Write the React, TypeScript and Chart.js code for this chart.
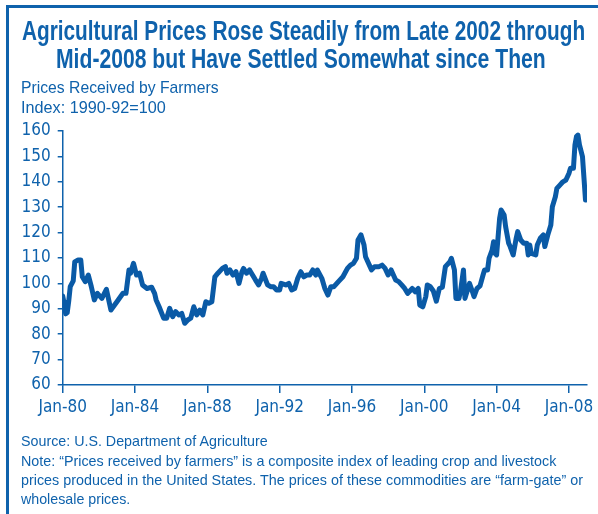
import React, { useEffect, useLayoutEffect, useRef, useState } from "react";
import { Chart, registerables } from "chart.js";

Chart.register(...registerables);

// Month index counted from Jan 1980 (0 = Jan-80)
const months = [
  0, 1, 2, 3, 4, 5, 7, 8, 10, 12, 13, 15, 17, 19, 21, 23, 26, 29, 32, 36,
  40, 42, 44, 45, 47, 49, 51, 53, 56, 59, 61, 62, 64, 67, 69, 71, 73, 75, 77, 79,
  81, 83, 85, 87, 89, 91, 93, 95, 97, 99, 101, 103, 106, 108, 109, 111, 113, 115, 117, 119,
  120, 122, 124, 126, 128, 130, 132, 133, 136, 138, 140, 142, 144, 145, 148, 150, 152, 154, 156, 158,
  160, 162, 164, 166, 168, 169, 172, 174, 176, 178, 180, 183, 186, 189, 191, 193, 195, 196, 198, 200,
  201, 204, 205, 207, 210, 212, 214, 216, 218, 221, 223, 225, 227, 229, 232, 234, 236, 237, 239, 241,
  242, 244, 246, 248, 250, 252, 254, 257, 258, 260, 261, 263, 264, 266, 267, 268, 270, 272, 273, 275,
  277, 279, 280, 282, 283, 285, 286, 287, 288, 289, 290, 291, 293, 294, 296, 297, 299, 301, 302, 304,
  306, 308, 309, 310, 311, 314, 315, 317, 319, 320, 322, 324, 325, 327, 328, 330, 332, 334, 336, 337,
  339, 340, 341, 342, 343, 345, 346, 347,
];

const values = [
  95, 92, 88, 88.5, 93, 98.7, 101, 108.5, 109.2, 109.2, 102.6, 100.7, 103.3, 98.7, 93.5, 96.1, 94.1, 97.7, 89.5, 92.8,
  96.1, 96.1, 105.3, 104, 107.9, 103.3, 104, 99.4, 98, 98.5, 96.1, 93.5, 90.8, 86.3, 86.3, 90.2, 86.9, 88.9, 87.6, 88.2,
  84.3, 85.6, 86.3, 90.8, 87.6, 89.5, 87.6, 92.8, 92.2, 92.8, 102.6, 104, 105.9, 106.6, 104, 105.3, 103.3, 104.6, 100, 104.6,
  105.9, 104, 105.3, 103.3, 101.3, 99.4, 102, 104, 99.4, 98.7, 98.7, 97.4, 97.4, 100, 99.4, 100, 97.4, 98, 102, 104.6,
  102.6, 103.3, 103.3, 105.3, 103.3, 105.3, 102, 98, 95.4, 98.7, 98.7, 100.7, 102.6, 105.9, 107.2, 107.9, 109.9, 117.1, 119.1, 115.1,
  110.5, 106.6, 105.3, 106.6, 106.6, 107.2, 105.9, 103.3, 105.3, 101.3, 100.7, 99.4, 98, 96.1, 98, 96.7, 98, 91.5, 90.8, 94.8,
  99.4, 98.7, 97, 93, 98, 98.5, 106.6, 108.5, 109.9, 105.3, 94.1, 94.1, 96.7, 105.3, 94.1, 96.1, 100, 96.7, 94.8, 98,
  99, 103.3, 105.3, 105.3, 109.9, 113.1, 116.4, 111.8, 111.2, 118.4, 125.6, 128.9, 126.9, 122.3, 115.8, 114.5, 111.2, 117.8, 120.4, 117.1,
  115.8, 115.8, 111.2, 115.1, 111.8, 111.2, 115.1, 117.8, 119.1, 114.5, 119.1, 123, 130.2, 134.1, 137.4, 138.7, 140, 140.7, 143.3, 145.3,
  145.3, 154.5, 157.8, 158.4, 154.5, 149.9, 141.4, 132.8,
];

const xTickYears = ["80", "84", "88", "92", "96", "00", "04", "08"];
const yTicks = [60, 70, 80, 90, 100, 110, 120, 130, 140, 150, 160];

const titleLines = [
  "Agricultural Prices Rose Steadily from Late 2002 through",
  "Mid-2008 but Have Settled Somewhat since Then",
];
const subtitleLines = ["Prices Received by Farmers", "Index: 1990-92=100"];
const footerLines = [
  "Source: U.S. Department of Agriculture",
  "Note: \u201cPrices received by farmers\u201d is a composite index of leading crop and livestock",
  "prices produced in the United States. The prices of these commodities are \u201cfarm-gate\u201d or",
  "wholesale prices.",
];

const BLUE = "#0f62ac";
const LINE = "#0a5aa6";
const TICK_FONT = "'DejaVu Sans Condensed', 'Liberation Sans', sans-serif";
const TEXT_FONT = "'Liberation Sans', Arial, sans-serif";

type FitProps = { text: string; left: number; top: number; width: number; size: number; bold?: boolean };

function FitLine({ text, left, top, width, size, bold }: FitProps) {
  const r = useRef<HTMLSpanElement | null>(null);
  const [s, setS] = useState(1);
  useLayoutEffect(() => {
    if (r.current) {
      const w = r.current.offsetWidth;
      if (w > 0) setS(width / w);
    }
  }, [text, width, size]);
  return (
    <span
      ref={r}
      style={{
        position: "absolute",
        left,
        top,
        fontFamily: TEXT_FONT,
        fontSize: size,
        fontWeight: bold ? "bold" : "normal",
        lineHeight: `${Math.round(size * 1.117 * 10) / 10}px`,
        whiteSpace: "nowrap",
        color: BLUE,
        transform: `scaleX(${s})`,
        transformOrigin: "0 0",
      }}
    >
      {text}
    </span>
  );
}

export default function App() {
  const ref = useRef<HTMLCanvasElement | null>(null);

  useEffect(() => {
    if (!ref.current) return;
    const data = months.map((m, i) => ({ x: m, y: values[i] }));
    const chart = new Chart(ref.current, {
      type: "line",
      data: {
        datasets: [
          {
            data,
            borderColor: LINE,
            borderWidth: 5,
            pointRadius: 0,
            tension: 0,
            borderJoinStyle: "round",
            borderCapStyle: "round",
            fill: false,
          },
        ],
      },
      options: {
        animation: false,
        responsive: false,
        maintainAspectRatio: false,
        layout: { padding: { left: 0, right: 11, top: 131, bottom: 0 } },
        plugins: { legend: { display: false }, tooltip: { enabled: false } },
        scales: {
          x: {
            type: "linear",
            min: 0,
            max: 348,
            afterFit: (s: any) => {
              s.height = 514 - 385;
            },
            border: { display: true, color: BLUE, width: 1.5 },
            grid: { drawOnChartArea: false, drawTicks: true, tickLength: 8, color: BLUE, lineWidth: 1.5 },
            ticks: {
              stepSize: 48,
              includeBounds: false,
              autoSkip: false,
              maxRotation: 0,
              color: BLUE,
              padding: 4,
              font: { family: TICK_FONT, size: 17 },
              callback: (v: any) => {
                const idx = Math.round(Number(v) / 48);
                return "Jan-" + xTickYears[idx];
              },
            },
          },
          y: {
            min: yTicks[0],
            max: yTicks[yTicks.length - 1],
            afterFit: (s: any) => {
              s.width = 62.7;
            },
            border: { display: true, color: BLUE, width: 1.5 },
            grid: { drawOnChartArea: false, drawTicks: true, tickLength: 5, color: BLUE, lineWidth: 1.5 },
            ticks: {
              stepSize: 10,
              color: BLUE,
              padding: 7,
              font: { family: TICK_FONT, size: 17 },
            },
          },
        },
      },
    });
    return () => chart.destroy();
  }, []);

  return (
    <div style={{ position: "absolute", left: 0, top: 0, width: 598, height: 514, overflow: "hidden", background: "#fff" }}>
      <div style={{ position: "absolute", left: 6, top: 5, width: 620, height: 540, borderLeft: `3px solid ${BLUE}`, borderTop: `3px solid ${BLUE}` }} />
      <canvas ref={ref} width={598} height={514} style={{ position: "absolute", left: 0, top: 0, width: 598, height: 514 }} />
      <FitLine text={titleLines[0]} left={22} top={15.5} width={563} size={27} bold />
      <FitLine text={titleLines[1]} left={56} top={43.5} width={490} size={27} bold />
      <FitLine text={subtitleLines[0]} left={21} top={78} width={198} size={17} />
      <FitLine text={subtitleLines[1]} left={21} top={98} width={145} size={17} />
      <FitLine text={footerLines[0]} left={21} top={432.5} width={247} size={14.5} />
      <FitLine text={footerLines[1]} left={21} top={452.5} width={535} size={14.5} />
      <FitLine text={footerLines[2]} left={21} top={471.5} width={562} size={14.5} />
      <FitLine text={footerLines[3]} left={21} top={490.5} width={109} size={14.5} />
    </div>
  );
}
